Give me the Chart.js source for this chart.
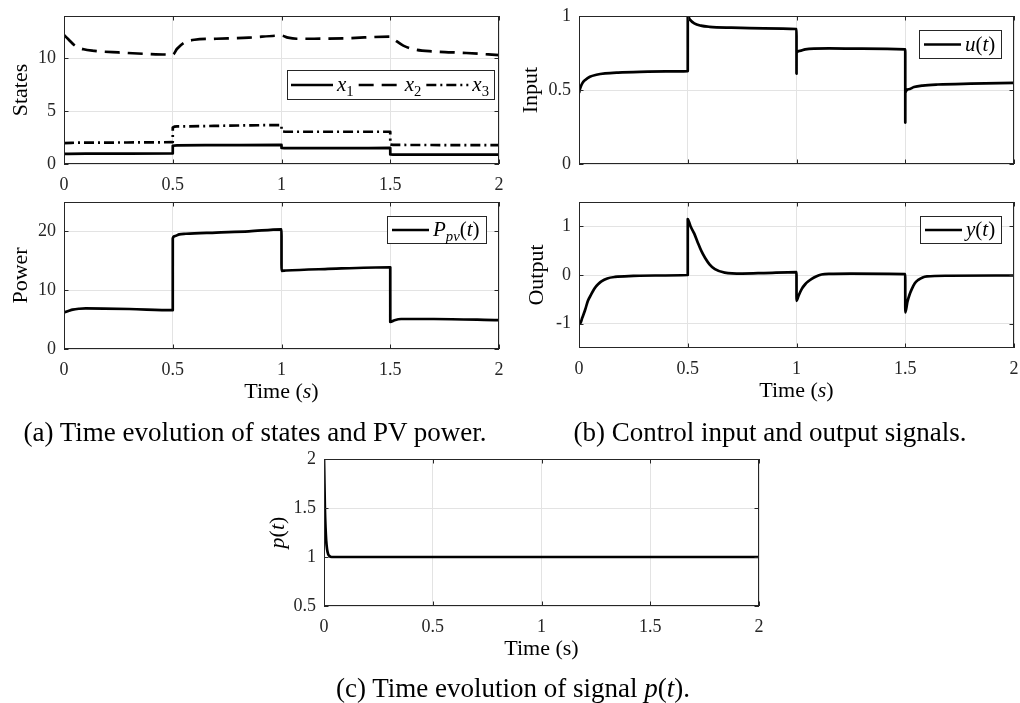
<!DOCTYPE html>
<html lang="en">
<head>
<meta charset="UTF-8">
<title>States, PV power, input, output and p(t)</title>
<script src="https://cdn.jsdelivr.net/npm/chart.js"></script>
<style>
  body { margin: 0; background: #fff; }
  .wrap { position: relative; width: 1020px; height: 703px; overflow: hidden; }
  .wrap canvas { position: absolute; left: 0; top: 0; }
  .cap {
    position: absolute; font-family: "Liberation Serif", "Times New Roman", serif;
    font-size: 27px; color: #000; white-space: nowrap; line-height: 1;
    transform: translate(-50%, -50%);
  }
</style>
</head>
<body>
<div class="wrap">
  <canvas id="c1" width="1020" height="703"></canvas>
  <canvas id="c2" width="1020" height="703"></canvas>
  <canvas id="c3" width="1020" height="703"></canvas>
  <canvas id="c4" width="1020" height="703"></canvas>
  <canvas id="c5" width="1020" height="703"></canvas>
  <div class="cap" style="left:255px; top:432px">(a) Time evolution of states and PV power.</div>
  <div class="cap" style="left:770px; top:432px">(b) Control input and output signals.</div>
  <div class="cap" style="left:513px; top:688px">(c) Time evolution of signal <i>p</i>(<i>t</i>).</div>
</div>

<script>
// ---- data ----
const timeTicks   = [0, 0.5, 1, 1.5, 2];
const statesTicks = [0, 5, 10];
const inputTicks  = [0, 0.5, 1];
const powerTicks  = [0, 10, 20];
const outputTicks = [-1, 0, 1];
const pTicks      = [0.5, 1, 1.5, 2];

const tX1 = [0, 0.02, 0.1, 0.3, 0.5, 0.5001, 0.52, 0.7, 1.0, 1.0001, 1.03, 1.3, 1.5, 1.5001, 1.53, 1.8, 2.0];
const x1  = [0.95, 0.96, 0.98, 0.99, 1.0, 1.72, 1.77, 1.78, 1.8, 1.52, 1.5, 1.5, 1.52, 0.9, 0.88, 0.88, 0.88];

const tX2 = [0, 0.02, 0.05, 0.09, 0.14, 0.25, 0.4, 0.5, 0.52, 0.55, 0.6, 0.7, 0.85, 1.0, 1.03, 1.07, 1.15, 1.3, 1.5, 1.52, 1.56, 1.62, 1.7, 1.85, 2.0];
const x2  = [12.2, 11.8, 11.2, 10.85, 10.7, 10.55, 10.4, 10.35, 10.9, 11.45, 11.75, 11.85, 11.95, 12.15, 11.95, 11.85, 11.85, 11.9, 12.05, 11.75, 11.2, 10.8, 10.65, 10.5, 10.3];

const tX3 = [0, 0.1, 0.5, 0.5001, 0.52, 0.8, 1.0, 1.0001, 1.03, 1.5, 1.5001, 1.53, 2.0];
const x3  = [1.98, 2.03, 2.07, 3.45, 3.56, 3.64, 3.68, 3.1, 3.05, 3.05, 1.85, 1.8, 1.78];

const tU = [0, 0.005, 0.015, 0.03, 0.05, 0.08, 0.12, 0.18, 0.28, 0.4, 0.5, 0.5001, 0.51, 0.53, 0.56, 0.6, 0.7, 0.85, 1.0, 1.0001, 1.0002, 1.015, 1.04, 1.08, 1.15, 1.3, 1.5, 1.5001, 1.5002, 1.515, 1.54, 1.58, 1.65, 1.8, 2.0];
const u  = [0.48, 0.51, 0.545, 0.57, 0.59, 0.603, 0.612, 0.618, 0.623, 0.626, 0.628, 1.0, 0.975, 0.95, 0.935, 0.927, 0.921, 0.917, 0.912, 0.61, 0.75, 0.765, 0.775, 0.78, 0.781, 0.779, 0.775, 0.28, 0.48, 0.505, 0.52, 0.53, 0.537, 0.543, 0.548];

const tP  = [0, 0.02, 0.04, 0.07, 0.1, 0.3, 0.5, 0.5001, 0.51, 0.53, 0.56, 0.7, 0.85, 1.0, 1.0001, 1.02, 1.2, 1.5, 1.5001, 1.52, 1.55, 1.7, 2.0];
const pPV = [6.2, 6.45, 6.7, 6.85, 6.9, 6.8, 6.6, 18.8, 19.2, 19.5, 19.6, 19.8, 20.0, 20.35, 13.3, 13.35, 13.6, 13.9, 4.6, 4.9, 5.1, 5.1, 4.9];

const tY = [0, 0.005, 0.015, 0.028, 0.041, 0.056, 0.072, 0.09, 0.103, 0.13, 0.165, 0.25, 0.35, 0.5,
            0.5001, 0.505, 0.515, 0.53, 0.545, 0.563, 0.58, 0.6, 0.625, 0.67, 0.75, 0.85, 1.0,
            1.0001, 1.01, 1.025, 1.04, 1.053, 1.07, 1.09, 1.115, 1.15, 1.25, 1.5,
            1.5001, 1.51, 1.52, 1.53, 1.544, 1.56, 1.58, 1.6, 1.7, 2.0];
const yOut = [-0.95, -1.0, -0.88, -0.72, -0.53, -0.4, -0.27, -0.18, -0.13, -0.07, -0.04, -0.02, -0.01, 0.0,
              1.15, 1.1, 0.98, 0.85, 0.68, 0.49, 0.35, 0.22, 0.12, 0.05, 0.03, 0.04, 0.06,
              -0.53, -0.42, -0.28, -0.19, -0.135, -0.08, -0.03, 0.01, 0.025, 0.03, 0.02,
              -0.77, -0.55, -0.4, -0.29, -0.17, -0.1, -0.05, -0.03, -0.015, -0.01];

const tPs  = [0, 0.002, 0.004, 0.007, 0.01, 0.014, 0.019, 0.025, 0.035, 0.05, 2.0];
const pSig = [2.0, 1.75, 1.5, 1.3, 1.17, 1.08, 1.03, 1.01, 1.0, 1.0, 1.0];

// ---- styling ----
const FONT = '"Liberation Serif", "Times New Roman", serif';
const INK = '#262626';
const GRID = '#e3e3e3';
const DASH = [15, 8];
const DASHDOT = [10, 4, 2, 4];

function partsWidth(ctx, parts, fs) {
  let w = 0;
  parts.forEach(p => {
    const s = p.sub ? fs * 0.7 : fs;
    ctx.font = (p.it ? 'italic ' : '') + s + 'px ' + FONT;
    w += ctx.measureText(p.t).width;
  });
  return w;
}

function drawParts(ctx, parts, x, y, fs) {
  let cx = x;
  parts.forEach(p => {
    const s = p.sub ? fs * 0.7 : fs;
    ctx.font = (p.it ? 'italic ' : '') + s + 'px ' + FONT;
    ctx.fillText(p.t, cx, y + (p.sub ? fs * 0.22 : 0));
    cx += ctx.measureText(p.t).width;
  });
}

// fixed axis size, no label overflow padding
function fixSize(s, w, h) {
  if (w !== null) s.width = w;
  if (h !== null) s.height = h;
  s.paddingLeft = 0; s.paddingRight = 0;
  s.paddingTop = 0; s.paddingBottom = 0;
}

function makeChart(id, cfg) {
  const YW = 40, XH = 30;
  const b = cfg.box;

  // axes box with inward ticks on all four sides
  const frame = {
    id: 'frame',
    afterDatasetsDraw(chart) {
      const { ctx, chartArea: a, scales: { x, y } } = chart;
      ctx.save();
      ctx.strokeStyle = INK;
      ctx.lineWidth = 1;
      ctx.beginPath();
      x.ticks.forEach(t => {
        const px = Math.round(x.getPixelForValue(t.value)) + 0.5;
        ctx.moveTo(px, a.bottom); ctx.lineTo(px, a.bottom - 4.5);
        ctx.moveTo(px, a.top); ctx.lineTo(px, a.top + 4.5);
      });
      y.ticks.forEach(t => {
        const py = Math.round(y.getPixelForValue(t.value)) + 0.5;
        ctx.moveTo(a.left, py); ctx.lineTo(a.left + 4.5, py);
        ctx.moveTo(a.right, py); ctx.lineTo(a.right - 4.5, py);
      });
      ctx.stroke();
      ctx.strokeRect(a.left + 0.5, a.top + 0.5, a.width - 1, a.height - 1);
      ctx.restore();
    }
  };

  // legend box inside the axes
  const legendBox = {
    id: 'legendBox',
    afterDraw(chart) {
      const lg = cfg.legend;
      const { ctx, chartArea: a } = chart;
      const fs = 21;
      ctx.save();
      const widths = lg.items.map(it => partsWidth(ctx, it.parts, fs));
      let w = lg.padL + lg.padR + lg.between * (lg.items.length - 1);
      widths.forEach(tw => { w += lg.line + lg.gap + tw; });
      w = Math.round(w);
      const right = a.right - lg.dx, top = a.top + lg.dy;
      const left = right - w;
      ctx.fillStyle = '#fff';
      ctx.fillRect(left, top, w, lg.h);
      ctx.strokeStyle = INK;
      ctx.lineWidth = 1;
      ctx.strokeRect(left + 0.5, top + 0.5, w, lg.h);
      const cy = top + lg.h / 2 + 0.5;
      let cx = left + lg.padL;
      lg.items.forEach((it, i) => {
        ctx.strokeStyle = '#000';
        ctx.lineWidth = 2.7;
        ctx.setLineDash(it.dash || []);
        ctx.beginPath();
        ctx.moveTo(cx, cy); ctx.lineTo(cx + lg.line, cy);
        ctx.stroke();
        ctx.setLineDash([]);
        cx += lg.line + lg.gap;
        ctx.fillStyle = '#000';
        ctx.textBaseline = 'alphabetic';
        drawParts(ctx, it.parts, cx, cy + 0.3 * fs, fs);
        cx += widths[i] + lg.between;
      });
      ctx.restore();
    }
  };

  // axis titles (mixed upright / italic text)
  const titles = {
    id: 'titles',
    afterDraw(chart) {
      const { ctx, chartArea: a } = chart;
      const fs = 22;
      ctx.save();
      ctx.fillStyle = '#000';
      ctx.textBaseline = 'alphabetic';
      if (cfg.yTitle) {
        const w = partsWidth(ctx, cfg.yTitle, fs);
        ctx.translate(a.left - cfg.yOff, (a.top + a.bottom) / 2);
        ctx.rotate(-Math.PI / 2);
        drawParts(ctx, cfg.yTitle, -w / 2, 0.34 * fs, fs);
        ctx.setTransform(1, 0, 0, 1, 0, 0);
      }
      if (cfg.xTitle) {
        const w = partsWidth(ctx, cfg.xTitle, fs);
        drawParts(ctx, cfg.xTitle, (a.left + a.right) / 2 - w / 2, a.bottom + cfg.xOff + 0.34 * fs, fs);
      }
      ctx.restore();
    }
  };

  return new Chart(document.getElementById(id), {
    type: 'line',
    data: {
      datasets: cfg.series.map(s => ({
        data: s.t.map((t, i) => ({ x: t, y: s.v[i] })),
        borderColor: '#000',
        borderWidth: 2.7,
        borderDash: s.dash || [],
        borderJoinStyle: 'round',
        pointRadius: 0,
        fill: false,
        cubicInterpolationMode: 'monotone'
      }))
    },
    options: {
      responsive: false,
      animation: false,
      devicePixelRatio: 1,
      events: [],
      layout: {
        autoPadding: false,
        padding: { left: b.l - YW, top: b.t, right: 1020 - b.r, bottom: 703 - b.b - XH }
      },
      plugins: { legend: { display: false }, tooltip: { enabled: false } },
      scales: {
        x: {
          type: 'linear', min: 0, max: 2,
          grid: { color: GRID, drawTicks: false },
          border: { display: false },
          ticks: {
            display: cfg.xLabels, maxRotation: 0, padding: 10,
            color: INK, font: { family: FONT, size: 18 },
            callback: v => String(v)
          },
          afterBuildTicks: s => { s.ticks = timeTicks.map(v => ({ value: v })); },
          afterFit: s => fixSize(s, null, XH)
        },
        y: {
          type: 'linear', min: cfg.yMin, max: cfg.yMax,
          grid: { color: GRID, drawTicks: false },
          border: { display: false },
          ticks: {
            padding: 8,
            color: INK, font: { family: FONT, size: 18 },
            callback: v => String(v)
          },
          afterBuildTicks: s => { s.ticks = cfg.yTicks.map(v => ({ value: v })); },
          afterFit: s => fixSize(s, YW, null)
        }
      }
    },
    plugins: [frame, titles].concat(cfg.legend ? [legendBox] : [])
  });
}

const timeItalic = [{ t: 'Time (' }, { t: 's', it: true }, { t: ')' }];

makeChart('c1', {
  box: { l: 64, r: 499, t: 16, b: 164 },
  yMin: 0, yMax: 14, yTicks: statesTicks, xLabels: true,
  yTitle: [{ t: 'States' }], yOff: 44,
  series: [
    { t: tX1, v: x1 },
    { t: tX2, v: x2, dash: DASH },
    { t: tX3, v: x3, dash: DASHDOT }
  ],
  legend: {
    dx: 5, dy: 54, h: 29, padL: 4, padR: 5, line: 42, gap: 4, between: 5,
    items: [
      { parts: [{ t: 'x', it: true }, { t: '1', sub: true }] },
      { parts: [{ t: 'x', it: true }, { t: '2', sub: true }], dash: DASH },
      { parts: [{ t: 'x', it: true }, { t: '3', sub: true }], dash: DASHDOT }
    ]
  }
});

makeChart('c2', {
  box: { l: 579, r: 1014, t: 16, b: 164 },
  yMin: 0, yMax: 1, yTicks: inputTicks, xLabels: false,
  yTitle: [{ t: 'Input' }], yOff: 49,
  series: [{ t: tU, v: u }],
  legend: {
    dx: 13, dy: 14, h: 28, padL: 5, padR: 6, line: 37, gap: 4, between: 0,
    items: [{ parts: [{ t: 'u', it: true }, { t: '(' }, { t: 't', it: true }, { t: ')' }] }]
  }
});

makeChart('c3', {
  box: { l: 64, r: 499, t: 202, b: 349 },
  yMin: 0, yMax: 25, yTicks: powerTicks, xLabels: true,
  yTitle: [{ t: 'Power' }], yOff: 44,
  xTitle: timeItalic, xOff: 42,
  series: [{ t: tP, v: pPV }],
  legend: {
    dx: 13, dy: 14, h: 27, padL: 5, padR: 6, line: 37, gap: 4, between: 0,
    items: [{ parts: [{ t: 'P', it: true }, { t: 'pv', it: true, sub: true }, { t: '(' }, { t: 't', it: true }, { t: ')' }] }]
  }
});

makeChart('c4', {
  box: { l: 579, r: 1014, t: 202, b: 348 },
  yMin: -1.5, yMax: 1.5, yTicks: outputTicks, xLabels: true,
  yTitle: [{ t: 'Output' }], yOff: 43,
  xTitle: timeItalic, xOff: 42,
  series: [{ t: tY, v: yOut }],
  legend: {
    dx: 13, dy: 14, h: 27, padL: 5, padR: 6, line: 37, gap: 4, between: 0,
    items: [{ parts: [{ t: 'y', it: true }, { t: '(' }, { t: 't', it: true }, { t: ')' }] }]
  }
});

makeChart('c5', {
  box: { l: 324, r: 759, t: 459, b: 606 },
  yMin: 0.5, yMax: 2, yTicks: pTicks, xLabels: true,
  yTitle: [{ t: 'p', it: true }, { t: '(' }, { t: 't', it: true }, { t: ')' }], yOff: 47,
  xTitle: [{ t: 'Time (s)' }], xOff: 42,
  series: [{ t: tPs, v: pSig }]
});
</script>
</body>
</html>
